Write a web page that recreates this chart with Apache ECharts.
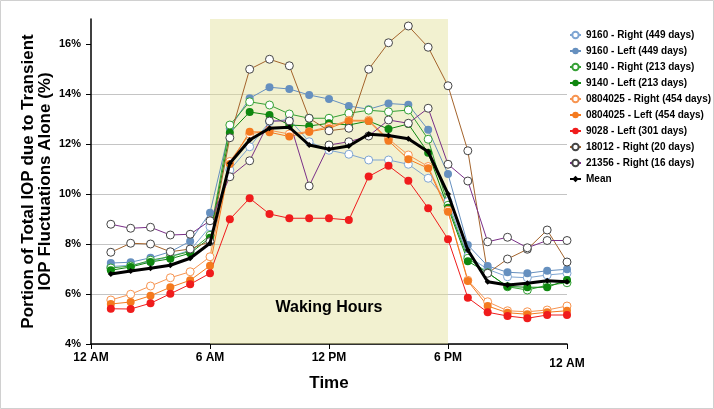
<!DOCTYPE html>
<html>
<head>
<meta charset="utf-8">
<script src="https://cdn.jsdelivr.net/npm/echarts@6/dist/echarts.min.js"></script>
<style>
html,body{margin:0;padding:0;background:#fff;}
#chart{width:714px;height:409px;}
</style>
</head>
<body>
<div id="chart"></div>
<script>
// Hours 1..24
const hours = [1,2,3,4,5,6,7,8,9,10,11,12,13,14,15,16,17,18,19,20,21,22,23,24];
const xTickLabels = ['12 AM','6 AM','12 PM','6 PM','12 AM'];
const yTicks = [4,6,8,10,12,14,16];

const s9160R = [7.10,7.15,7.30,7.50,7.75,8.69,10.96,11.89,12.89,12.99,12.09,11.75,11.59,11.36,11.36,11.19,10.63,9.70,7.52,6.99,6.69,6.65,6.76,6.83];
const s9160L = [7.24,7.27,7.45,7.69,8.11,9.25,12.63,13.83,14.27,14.20,13.96,13.80,13.52,13.39,13.62,13.57,12.57,10.80,7.96,7.12,6.87,6.83,6.93,6.99];
const s9140R = [7.04,7.12,7.35,7.50,7.70,8.35,12.76,13.69,13.56,13.20,13.03,13.03,13.23,13.35,13.29,13.36,12.19,9.55,7.43,6.85,6.29,6.16,6.35,6.45];
const s9140L = [6.95,7.08,7.28,7.41,7.63,8.25,12.45,13.28,13.16,12.76,12.72,12.83,12.76,12.92,12.60,12.80,11.65,9.45,7.31,6.85,6.30,6.27,6.27,6.56];
const s0804R = [5.76,5.99,6.32,6.65,6.89,7.49,11.30,12.40,12.55,12.40,12.50,12.70,12.95,12.95,12.20,11.56,11.10,9.35,6.55,5.69,5.33,5.29,5.36,5.52];
const s0804L = [5.60,5.68,5.93,6.27,6.55,7.13,11.20,12.49,12.47,12.30,12.49,12.63,12.92,12.92,12.13,11.39,11.03,9.29,6.52,5.52,5.25,5.19,5.27,5.33];
const s9028L = [5.41,5.40,5.63,6.01,6.39,6.83,8.99,9.83,9.20,9.03,9.03,9.03,8.96,10.70,11.13,10.53,9.43,8.19,5.85,5.27,5.12,5.03,5.16,5.16];
const s18012R = [7.67,8.03,8.00,7.69,7.80,8.10,12.25,14.99,15.39,15.13,13.03,12.53,12.63,14.99,16.05,16.72,15.87,14.33,11.73,6.83,7.40,7.79,8.56,7.28];
const s21356R = [8.79,8.63,8.67,8.36,8.39,8.93,10.69,11.33,12.92,12.92,10.32,11.96,12.09,12.32,12.96,12.83,13.43,11.19,10.52,8.09,8.27,7.85,8.14,8.14];
const sMean = [6.80,6.92,7.03,7.15,7.43,8.03,11.23,12.16,12.63,12.67,11.96,11.79,11.92,12.39,12.34,12.21,11.69,10.00,7.76,6.49,6.36,6.43,6.53,6.49];

const seriesNames = ['9160 - Right (449 days)','9160 - Left (449 days)','9140 - Right (213 days)','9140 - Left (213 days)','0804025 - Right (454 days)','0804025 - Left (454 days)','9028 - Left (301 days)','18012 - Right (20 days)','21356 - Right (16 days)','Mean'];
const seriesData = [s9160R,s9160L,s9140R,s9140L,s0804R,s0804L,s9028L,s18012R,s21356R,sMean];

const styles = [
  {line:'#7ea5d2', open:true, border:'#7ea5d2'},
  {line:'#6690bf', open:false, fill:'#6690bf'},
  {line:'#35a035', open:true, border:'#35a035'},
  {line:'#0f870f', open:false, fill:'#0f870f'},
  {line:'#f79450', open:true, border:'#f79450'},
  {line:'#f47a1f', open:false, fill:'#f47a1f'},
  {line:'#f01c1c', open:false, fill:'#f01c1c'},
  {line:'#a4642c', open:true, border:'#444444'},
  {line:'#7a2f88', open:true, border:'#444444'},
  {line:'#000000', mean:true}
];

const pair = arr => hours.map((h,i)=>[h,arr[i]]);

const series = seriesData.map((arr,i)=>{
  const st = styles[i];
  const s = {
    name: seriesNames[i],
    type:'line',
    data: pair(arr),
    animation:false,
    lineStyle:{color:st.line,width:1},
    symbol:'circle',
    symbolSize:8
  };
  if (st.mean) {
    s.lineStyle = {color:'#000',width:3};
    s.symbol = 'diamond';
    s.symbolSize = 6;
    s.itemStyle = {color:'#000'};
    s.z = 5;
  } else if (st.open) {
    s.itemStyle = {color:'#ffffff',borderColor:st.border,borderWidth:1};
  } else {
    s.itemStyle = {color:st.fill,borderWidth:0};
  }
  if (i===0) {
    s.markArea = {
      silent:true,
      itemStyle:{color:'rgba(226,224,150,0.45)'},
      label:{show:true,position:'insideBottom',distance:28,color:'#000',fontWeight:'bold',fontSize:16,fontFamily:'Liberation Sans, Arial, sans-serif'},
      data:[[{xAxis:6,yAxis:4,name:'Waking Hours'},{xAxis:18,yAxis:17}]]
    };
  }
  return s;
});

const chart = echarts.init(document.getElementById('chart'),null,{renderer:'canvas'});
chart.setOption({
  backgroundColor:'#fff',
  animation:false,
  textStyle:{fontFamily:'Liberation Sans, Arial, sans-serif'},
  grid:{left:91,right:147,top:19,bottom:65,containLabel:false},
  graphic:[{type:'rect',shape:{x:0.5,y:0.5,width:713,height:408},style:{fill:'none',stroke:'#d0d0d0',lineWidth:1},silent:true,z:-1}],
  legend:{
    data:seriesNames,
    orient:'vertical',
    left:564, top:24,
    itemWidth:11, itemHeight:8, itemGap:4,
    textStyle:{fontSize:10,fontWeight:'bold',color:'#000',lineHeight:12,fontFamily:'Liberation Sans, Arial, sans-serif'},
    selectedMode:false
  },
  xAxis:{
    type:'value', min:0, max:24, interval:6,
    name:'Time', nameLocation:'middle', nameGap:27,
    nameTextStyle:{fontSize:17,fontWeight:'bold',color:'#000'},
    axisLine:{show:true,lineStyle:{color:'#000',width:1.5}},
    axisTick:{show:true,length:5,lineStyle:{color:'#000'}},
    splitLine:{show:false},
    axisLabel:{
      color:'#000',fontWeight:'bold',fontSize:12,margin:8,
      formatter:function(v){
        const idx = Math.round(v/6);
        if (idx===xTickLabels.length-1) return '{b|'+xTickLabels[idx]+'}';
        return xTickLabels[idx];
      },
      rich:{b:{fontWeight:'bold',fontSize:12,color:'#000',padding:[6,0,0,0]}}
    }
  },
  yAxis:{
    type:'value', min:4, max:17, interval:2,
    name:'Portion of Total IOP due to Transient\nIOP Fluctuations Alone (%)',
    nameLocation:'middle', nameGap:37, nameMoveOverlap:false,
    nameTextStyle:{fontSize:17,fontWeight:'bold',color:'#000',lineHeight:17},
    axisLine:{show:true,lineStyle:{color:'#000',width:1.5}},
    axisTick:{show:true,length:5,lineStyle:{color:'#000'},customValues:yTicks},
    axisLabel:{color:'#000',fontWeight:'bold',fontSize:11,margin:10,customValues:yTicks,
      formatter:function(v){return v+'%';}},
    splitLine:{show:true,showMaxLine:false,lineStyle:{color:'#c4c4c4',width:1}}
  },
  series:series
});
</script>
</body>
</html>
